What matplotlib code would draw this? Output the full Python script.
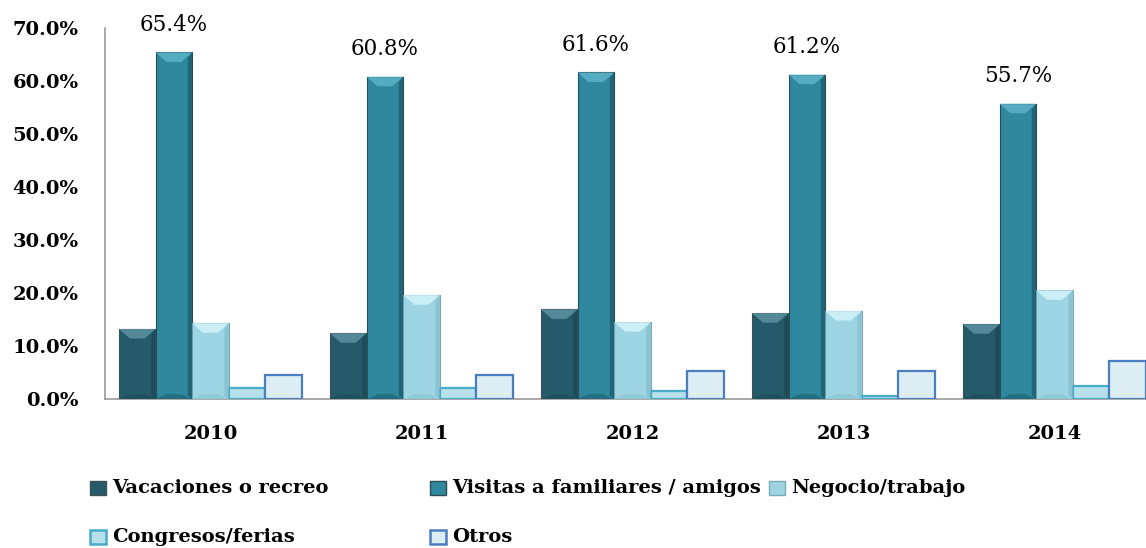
import matplotlib

matplotlib.use("Agg")
import matplotlib.pyplot as plt
import numpy as np
from matplotlib.patches import Rectangle, Polygon

YEARS = ["2010", "2011", "2012", "2013", "2014"]
SERIES = [
    "Vacaciones o recreo",
    "Visitas a familiares / amigos",
    "Negocio/trabajo",
    "Congresos/ferias",
    "Otros",
]
vacaciones = [13.2, 12.4, 16.9, 16.2, 14.1]
visitas = [65.4, 60.8, 61.6, 61.2, 55.7]
negocio = [14.3, 19.6, 14.5, 16.6, 20.5]
congresos = [2.1, 2.1, 1.5, 0.6, 2.4]
otros = [4.5, 4.5, 5.3, 5.3, 7.2]

FILLS = ["#245a69", "#2f889e", "#9dd5e5", "#b8e0eb", "#dcedf4"]
EDGES = ["#3c4f55", "#2b4b55", "#7aa8b5", "#48acc9", "#4a7ec0"]
TOPS = ["#5f96a4", "#5fb6cc", "#d6f6fc"]  # bevel highlight
SIDES = ["#1b4752", "#1a5566", "#86bccb"]  # right-hand shade
EDGE_W = [0.8, 0.8, 0.8, 1.6, 1.6]

FONT = "DejaVu Serif"

fig = plt.figure(figsize=(11.46, 5.48), dpi=100)
# plot area runs past the right edge of the image, as in the original
ax = fig.add_axes([0.0916, 0.272, 0.9206, 0.677])

values = [vacaciones, visitas, negocio, congresos, otros]
x = np.arange(len(YEARS))
w = 0.1735
for i, vals in enumerate(values):
    pos = x + (i - 2) * w
    ax.bar(pos, vals, width=w, color=FILLS[i], edgecolor=EDGES[i],
           linewidth=EDGE_W[i], zorder=3)
    if i < 3:
        # fake bevel: light top, dark right side, dark foot
        d, ins = 1.8, w * 0.3
        for p, v in zip(pos, vals):
            l, r = p - w / 2, p + w / 2
            ax.add_patch(Polygon([(l, v), (r, v), (r - ins, v - d), (l + ins, v - d)],
                                 closed=True, facecolor=TOPS[i], edgecolor="none",
                                 alpha=0.8, zorder=4))
            ax.add_patch(Polygon([(r, v), (r, 0), (r - w * 0.12, 0.6), (r - w * 0.12, v - d * 0.6)],
                                 closed=True, facecolor=SIDES[i], edgecolor="none",
                                 alpha=0.7, zorder=4))
            ax.add_patch(Polygon([(l, 0), (r, 0), (r - ins, 0.9), (l + ins, 0.9)],
                                 closed=True, facecolor=SIDES[i], edgecolor="none",
                                 alpha=0.5, zorder=4))

for xi, v in zip(x - w, visitas):
    ax.annotate(f"{v:.1f}%", (xi, v), textcoords="offset points", xytext=(0, 12),
                ha="center", va="bottom", fontsize=15.5, family=FONT)

ax.set_xlim(-0.5, len(YEARS) - 0.5)
ax.set_ylim(0, 70)
ax.set_yticks(np.arange(0, 71, 10))
ax.set_yticklabels([f"{t:.1f}%" for t in np.arange(0, 71, 10)],
                   fontsize=14, fontweight="bold", family=FONT)
ax.set_xticks(x)
ax.set_xticklabels(YEARS, fontsize=14, fontweight="bold", family=FONT)
ax.tick_params(length=0)
ax.tick_params(axis="x", pad=19)
ax.tick_params(axis="y", pad=19)
for s in ("top", "right"):
    ax.spines[s].set_visible(False)
for s in ("left", "bottom"):
    ax.spines[s].set_color("#9a9a9a")
    ax.spines[s].set_linewidth(1.2)

# legend laid out like the original (row-major, uneven columns)
legend_pos = [(0.0785, 0.1095), (0.3752, 0.1095), (0.671, 0.1095),
              (0.0785, 0.020), (0.3752, 0.020)]
for i, (lx, ly) in enumerate(legend_pos):
    fig.patches.append(Rectangle((lx, ly - 0.0135), 0.014, 0.027, transform=fig.transFigure,
                                 facecolor=FILLS[i], edgecolor=EDGES[i],
                                 linewidth=1.0 if i < 3 else 1.8, figure=fig))
    fig.text(lx + 0.0192, ly, SERIES[i], fontsize=14, fontweight="bold",
             family=FONT, va="center", ha="left")

fig.savefig("out.png", dpi=100)
